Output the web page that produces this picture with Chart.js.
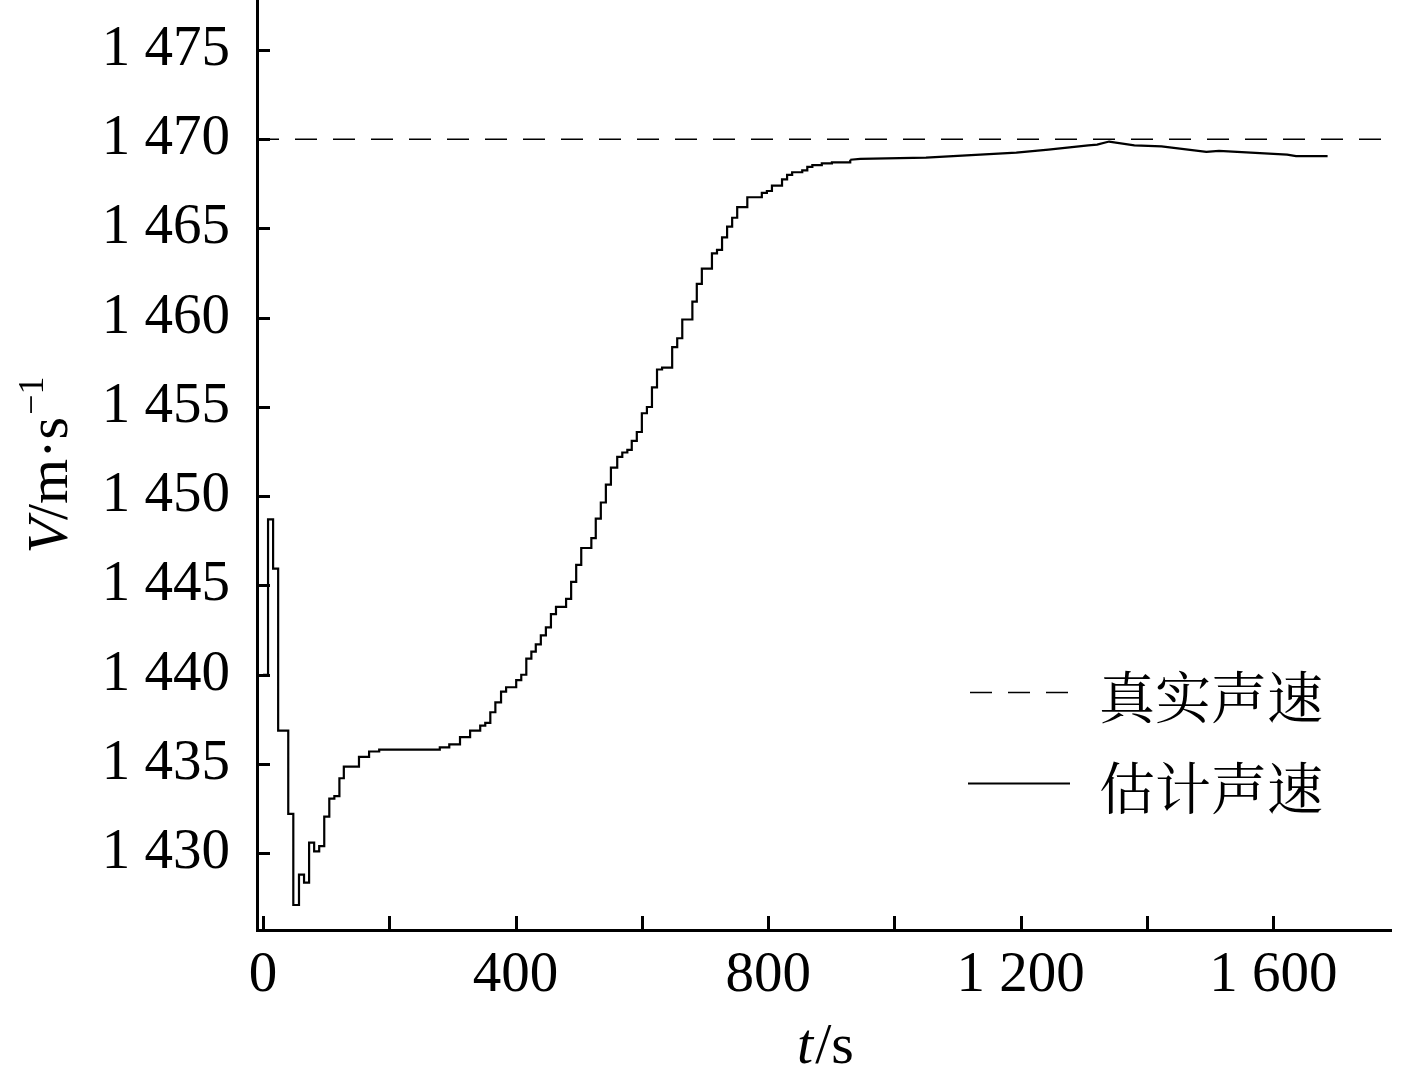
<!DOCTYPE html>
<html>
<head>
<meta charset="utf-8">
<script src="https://cdn.jsdelivr.net/npm/chart.js@4.4.0/dist/chart.umd.min.js"></script>
<style>
  html, body { margin: 0; padding: 0; background: #ffffff; }
  #wrap { width: 1417px; height: 1069px; position: relative; }
</style>
</head>
<body>
<div id="wrap"><canvas id="c" width="1417" height="1069"></canvas></div>
<script>
// ---------- data ----------
const stepTimes = [0,8,16,24,40,48,57,65,73,81,89,97,105,113,121,128,152,168,184,230,280,295,312,328,344,352,360,368,377,385,401,409,417,425,432,440,448,456,464,480,488,496,504,520,527,535,543,551,561,569,577,584,592,600,608,616,624,632,648,656,664,680,687,695,711,719,727,735,743,751,767,790,798,806,822,830,838,854,862,870,885,901,930];
const stepValues = [1440,1448.7,1445.95,1436.87,1432.2,1427.1,1428.8,1428.35,1430.6,1430.1,1430.4,1432.05,1433.06,1433.2,1434.2,1434.85,1435.4,1435.7,1435.8,1435.8,1435.93,1436.1,1436.5,1436.87,1437.15,1437.3,1437.9,1438.45,1439.05,1439.3,1439.7,1440.0,1440.9,1441.3,1441.7,1442.2,1442.65,1443.4,1443.8,1444.25,1445.2,1446.15,1447.1,1447.65,1448.75,1449.65,1450.65,1451.6,1452.2,1452.45,1452.6,1453.1,1453.6,1454.65,1455.0,1456.1,1457.1,1457.2,1458.35,1458.85,1459.9,1460.9,1461.9,1462.75,1463.6,1463.8,1464.5,1465.1,1465.6,1466.2,1466.75,1467.0,1467.1,1467.4,1467.75,1468.0,1468.15,1468.25,1468.45,1468.55,1468.65,1468.7,1468.85];
const driftTimes = [930,946,1050,1193,1244,1307,1321,1340,1380,1423,1494,1514,1622,1636,1686];
const driftValues = [1468.85,1468.9,1468.97,1469.25,1469.42,1469.66,1469.7,1469.87,1469.66,1469.6,1469.29,1469.35,1469.14,1469.05,1469.05];
const trueSpeed = 1470;
const trueTimes = [-9.5, 1788];
const xTickValues = [0,200,400,600,800,1000,1200,1400,1600];
const xLabeledTicks = [0,400,800,1200,1600];
const yTickValues = [1430,1435,1440,1445,1450,1455,1460,1465,1470,1475];
const legendLabels = ['真实声速', '估计声速'];
const xTitle = ['t', '/s'];
const yTitle = ['V', '/m·s', '−1'];

// ---------- helpers ----------
const SERIF = '"Liberation Serif", "Times New Roman", serif';
const CJK = '"Noto Serif CJK SC", "Noto Sans CJK SC", sans-serif';
function fmt(v) {
  if (v >= 1000) return Math.floor(v / 1000) + ' ' + String(v % 1000).padStart(3, '0');
  return String(v);
}
const DASH = [22, 16];

const tickPlugin = {
  id: 'innerTicks',
  afterDatasetsDraw(chart) {
    const ctx = chart.ctx;
    const x = chart.scales.x, y = chart.scales.y;
    const a = chart.chartArea;
    ctx.save();
    ctx.strokeStyle = '#000';
    ctx.lineWidth = 3;
    ctx.setLineDash([]);
    xTickValues.forEach(v => {
      const px = Math.round(x.getPixelForValue(v)) + 0.5;
      ctx.beginPath(); ctx.moveTo(px, a.bottom); ctx.lineTo(px, a.bottom - 14); ctx.stroke();
    });
    yTickValues.forEach(v => {
      const py = Math.round(y.getPixelForValue(v)) + 0.5;
      ctx.beginPath(); ctx.moveTo(a.left, py); ctx.lineTo(a.left + 13, py); ctx.stroke();
    });
    ctx.restore();
  },
  afterDraw(chart) {
    const ctx = chart.ctx;
    const a = chart.chartArea;
    ctx.save();
    ctx.fillStyle = '#000';
    // x title
    ctx.textBaseline = 'alphabetic';
    ctx.textAlign = 'left';
    const fi = 'italic 58px ' + SERIF, fn = '58px ' + SERIF;
    ctx.font = fi; const w1 = ctx.measureText(xTitle[0]).width;
    ctx.font = fn; const w2 = ctx.measureText(xTitle[1]).width;
    let sx = (a.left + a.right) / 2 - (w1 + w2) / 2;
    ctx.font = fi; ctx.fillText(xTitle[0], sx, 1063);
    ctx.font = fn; ctx.fillText(xTitle[1], sx + w1 + 2, 1063);
    // y title rotated
    ctx.save();
    ctx.translate(67, (a.top + a.bottom) / 2);
    ctx.rotate(-Math.PI / 2);
    const fs = '36px ' + SERIF;
    ctx.font = fi; const v1 = ctx.measureText(yTitle[0]).width;
    ctx.font = fn; const v2 = ctx.measureText(yTitle[1]).width;
    ctx.font = fs; const v3 = ctx.measureText(yTitle[2]).width;
    let s = -(v1 + v2 + v3) / 2;
    ctx.font = fi; ctx.fillText(yTitle[0], s, 0);
    ctx.font = fn; ctx.fillText(yTitle[1], s + v1 - 2, 0);
    ctx.font = fs; ctx.fillText(yTitle[2], s + v1 + v2, -24);
    ctx.restore();
    // legend
    ctx.strokeStyle = '#000';
    ctx.lineWidth = 1.6;
    ctx.setLineDash(DASH);
    ctx.beginPath(); ctx.moveTo(970, 692.5); ctx.lineTo(1070, 692.5); ctx.stroke();
    ctx.setLineDash([]);
    ctx.lineWidth = 2;
    ctx.beginPath(); ctx.moveTo(968, 783.5); ctx.lineTo(1070, 783.5); ctx.stroke();
    ctx.font = '56px ' + CJK;
    ctx.textBaseline = 'middle';
    ctx.fillText(legendLabels[0], 1099, 697);
    ctx.fillText(legendLabels[1], 1099, 788);
    ctx.restore();
  }
};

new Chart(document.getElementById('c'), {
  type: 'line',
  data: {
    datasets: [
      {
        label: legendLabels[1],
        data: stepTimes.map((t, i) => ({ x: t, y: stepValues[i] })),
        stepped: 'before',
        borderColor: '#000', borderWidth: 2.2, pointRadius: 0, fill: false, order: 1
      },
      {
        label: legendLabels[1] + '_',
        data: driftTimes.map((t, i) => ({ x: t, y: driftValues[i] })),
        borderColor: '#000', borderWidth: 2.2, pointRadius: 0, fill: false, tension: 0, order: 1
      },
      {
        label: legendLabels[0],
        data: trueTimes.map(t => ({ x: t, y: trueSpeed })),
        borderColor: '#000', borderWidth: 1.6, borderDash: DASH, pointRadius: 0, fill: false, order: 2
      }
    ]
  },
  options: {
    responsive: false,
    animation: false,
    layout: { padding: { left: 0, right: 25, top: 0, bottom: 0 } },
    plugins: { legend: { display: false }, tooltip: { enabled: false } },
    scales: {
      x: {
        type: 'linear',
        min: -9.5, max: 1788,
        afterBuildTicks: s => { s.ticks = xTickValues.map(v => ({ value: v })); },
        afterFit: s => { s.height = 139; s.paddingLeft = 0; s.paddingRight = 0; },
        grid: { display: true, drawOnChartArea: false, drawTicks: false, lineWidth: 0 },
        border: { display: true, color: '#000', width: 3 },
        ticks: {
          autoSkip: false, maxRotation: 0, padding: 12,
          color: '#000', font: { family: SERIF, size: 57 },
          callback: v => xLabeledTicks.includes(v) ? fmt(v) : ''
        }
      },
      y: {
        type: 'linear',
        min: 1425.7, max: 1477.8,
        afterBuildTicks: s => { s.ticks = yTickValues.map(v => ({ value: v })); },
        afterFit: s => { s.width = 257; s.paddingTop = 0; s.paddingBottom = 0; },
        grid: { display: true, drawOnChartArea: false, drawTicks: false, lineWidth: 0 },
        border: { display: true, color: '#000', width: 3 },
        ticks: {
          padding: 27, color: '#000', font: { family: SERIF, size: 57 },
          callback: v => fmt(v)
        }
      }
    }
  },
  plugins: [tickPlugin]
});
</script>
</body>
</html>
